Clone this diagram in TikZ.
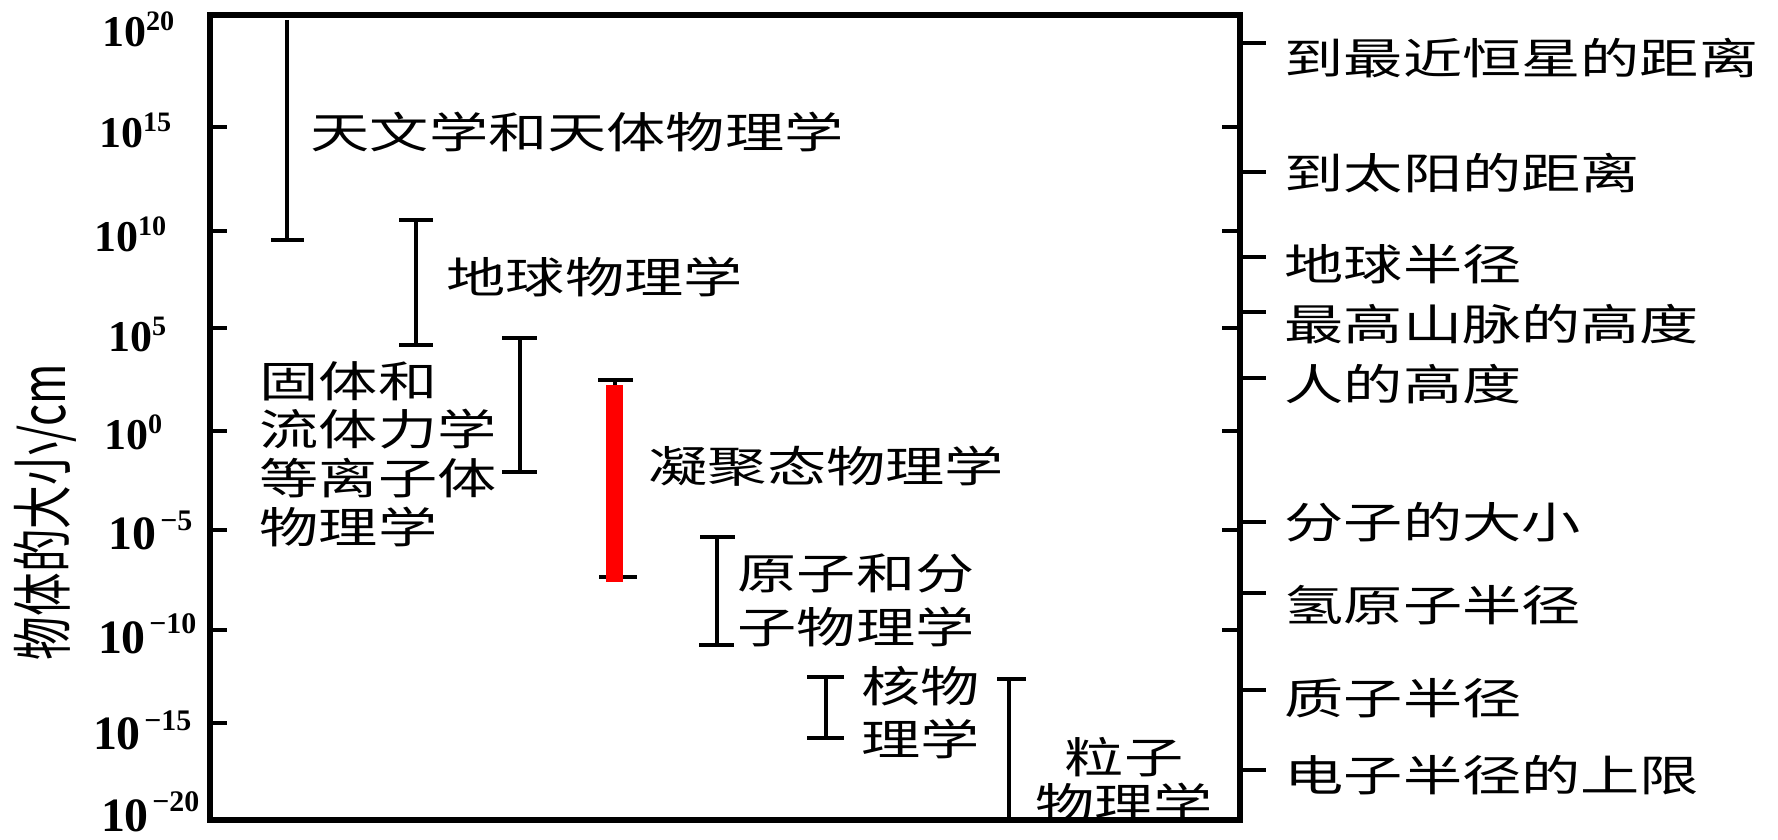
\documentclass[tikz,border=0pt]{standalone}
\usepackage{fontspec}
\usepackage{graphicx}
\setmainfont{Liberation Serif}
\newfontfamily\cjkfont[FakeStretch=1.38]{Noto Sans CJK SC}
\newfontfamily\cjkplain{Noto Sans CJK SC}
\newcommand{\tenp}[1]{10\raisebox{4.6pt}{\fontsize{8}{9}\selectfont #1}}
\newcommand{\tenn}[1]{10\kern1pt\raisebox{5.6pt}{\fontsize{8.5}{9}\selectfont −#1}}
\tikzset{
  boxframe/.style={line width=1.45pt},
  rangebar/.style={line width=1.15pt},
  axtick/.style={line width=1pt},
  cjklbl/.style={inner sep=0pt, anchor=west, font={\cjkfont\fontsize{12.2pt}{13.8pt}\selectfont}},
  numpos/.style={inner sep=0pt, anchor=base east, font={\bfseries\fontsize{12.5pt}{14pt}\selectfont}},
  numneg/.style={inner sep=0pt, anchor=base east, font={\bfseries\fontsize{13.6pt}{15pt}\selectfont}},
}
\begin{document}
\begin{tikzpicture}[x=0.01cm, y=-0.01cm]
\useasboundingbox (0,0) rectangle (1778,840);

% range bars
\draw[rangebar] (287,20) -- (287,240);
\draw[rangebar] (271,240) -- (304,240);

\draw[rangebar] (416,220) -- (416,345);
\draw[rangebar] (399,220) -- (433,220);
\draw[rangebar] (399,345) -- (433,345);

\draw[rangebar] (520,338) -- (520,472);
\draw[rangebar] (502,338) -- (537,338);
\draw[rangebar] (502,472) -- (537,472);

\draw[rangebar] (615,380) -- (615,577);
\draw[rangebar] (598,380) -- (633,380);
\draw[rangebar] (599,577) -- (637,577);
\fill[red] (606,385) rectangle (623,582);

\draw[rangebar] (717,537) -- (717,645);
\draw[rangebar] (700,537) -- (735,537);
\draw[rangebar] (699,645) -- (734,645);

\draw[rangebar] (826,677) -- (826,738);
\draw[rangebar] (807,677) -- (844,677);
\draw[rangebar] (807,738) -- (844,738);

\draw[rangebar] (1009,679) -- (1009,820);
\draw[rangebar] (997,679) -- (1026,679);

% field labels
\node[cjklbl] (astro) at (310,132) {天文学和天体物理学};
\node[cjklbl] (geo) at (446,277) {地球物理学};
\node[cjklbl, align=left] (fluid) at (259,454) {固体和\\流体力学\\等离子体\\物理学};
\node[cjklbl] (cond) at (648,466) {凝聚态物理学};
\node[cjklbl, align=left, font={\cjkfont\fontsize{12.2pt}{15.4pt}\selectfont}] (atom) at (737,600) {原子和分\\子物理学};
\node[cjklbl, align=left, font={\cjkfont\fontsize{12.2pt}{15.1pt}\selectfont}] (nucl) at (861,713) {核物\\理学};
\node[cjklbl, anchor=center, align=center, font={\cjkfont\fontsize{12.2pt}{13.1pt}\selectfont}] (part) at (1124,780) {粒子\\物理学};

% frame (drawn after the text so it covers the clipped line)
\draw[boxframe] (210,15) rectangle (1240,820);

% axis ticks
\foreach \yy in {127,231,328,431,530,630,723} {\draw[axtick] (210,\yy) -- (227,\yy);}
\foreach \yy in {127,231,328,431,530,630} {\draw[axtick] (1222,\yy) -- (1240,\yy);}
\foreach \yy in {43,172,257,312,378,522,593,690,770} {\draw[axtick] (1240,\yy) -- (1266,\yy);}

% right labels
\node[cjklbl] (r1) at (1284,58) {到最近恒星的距离};
\node[cjklbl] (r2) at (1284,173) {到太阳的距离};
\node[cjklbl] (r3) at (1284,264) {地球半径};
\node[cjklbl] (r4) at (1284,324) {最高山脉的高度};
\node[cjklbl] (r5) at (1284,384) {人的高度};
\node[cjklbl] (r6) at (1284,522) {分子的大小};
\node[cjklbl] (r7) at (1284,605) {氢原子半径};
\node[cjklbl] (r8) at (1284,698) {质子半径};
\node[cjklbl] (r9) at (1284,775) {电子半径的上限};

% left axis numbers
\node[numpos] (n20) at (175,47) {\tenp{20}};
\node[numpos] (n15) at (172,148) {\tenp{15}};
\node[numpos] (n10) at (167,252) {\tenp{10}};
\node[numpos] (n5) at (167,352) {\tenp{5}};
\node[numpos] (n0) at (163,450) {\tenp{0}};
\node[numneg] (m5) at (193,550) {\tenn{5}};
\node[numneg] (m10) at (197,653) {\tenn{10}};
\node[numneg] (m15) at (192,750) {\tenn{15}};
\node[numneg] (m20) at (200,831) {\tenn{20}};

% axis title
\node[inner sep=0pt, rotate=90, font={\cjkplain\fontsize{12.4pt}{14pt}\selectfont}] (ytitle) at (45,512) {\scalebox{1}[1.4]{物体的大小/cm}};
\end{tikzpicture}
\end{document}
